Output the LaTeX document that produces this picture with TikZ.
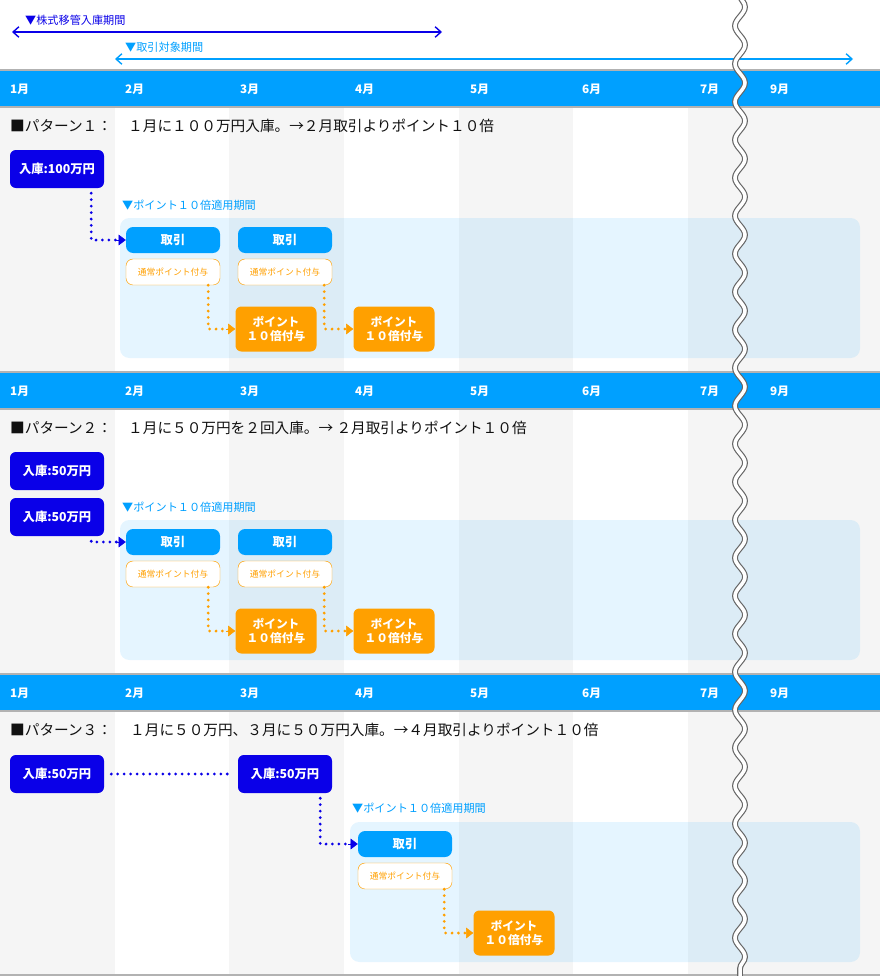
\documentclass[tikz,border=0pt]{standalone}
\usepackage{fontspec}
\setmainfont{Noto Sans CJK JP}
\usetikzlibrary{arrows.meta,positioning,decorations.pathmorphing}
\definecolor{sky}{HTML}{00A0FF}
\definecolor{deep}{HTML}{0A00E8}
\definecolor{amber}{HTML}{FFA000}
\definecolor{greycol}{HTML}{F5F5F5}
\definecolor{ink}{HTML}{111111}
\tikzset{
    x=0.03cm, y=-0.03cm, font=\fontsize{11}{13}\selectfont,
    month/.style = {text=white, font=\fontsize{10}{12}\selectfont\bfseries, anchor=west},
    title/.style = {text=ink, font=\fontsize{12.5}{15}\selectfont, anchor=west, inner sep=0pt},
    span/.style = {text=sky, font=\fontsize{9.5}{11}\selectfont, anchor=west, inner sep=0pt},
    deposit/.style = {rounded corners=5pt, fill=deep, text=white, minimum width=94*0.03cm, minimum height=38*0.03cm, font=\fontsize{10.5}{12}\selectfont\bfseries},
    trade/.style = {rounded corners=6pt, fill=sky, text=white, minimum width=94*0.03cm, minimum height=26*0.03cm, font=\fontsize{10.5}{12}\selectfont\bfseries},
    normal/.style = {rounded corners=6pt, draw=amber, fill=white, text=amber, minimum width=94*0.03cm, minimum height=26*0.03cm, inner sep=0pt, font=\fontsize{7.5}{9}\selectfont},
    bonus/.style = {rounded corners=5pt, fill=amber, text=white, minimum width=81*0.03cm, minimum height=45*0.03cm, inner sep=1pt, align=center, font=\fontsize{10}{12}\selectfont\bfseries},
    bluedots/.style = {draw=deep, line width=2.6pt, dash pattern=on 0pt off 5.5pt, line cap=round},
    orangedots/.style = {draw=amber, line width=2.6pt, dash pattern=on 0pt off 5.5pt, line cap=round},
    tip/.style = {-{Triangle[length=6pt,width=9pt,line cap=butt]}}
}
\begin{document}
\begin{tikzpicture}
    \useasboundingbox (0,0) rectangle (880,976);
    \fill[white] (0,0) rectangle (880,976);
    % columns
    \foreach \a/\b in {0/115,229/344,459/573,688/880}
        \fill[greycol] (\a,107) rectangle (\b,975);
    % month bands
    \foreach \y in {70,372,674} {
        \fill[sky] (0,\y) rectangle (880,\y+37);
        \draw[gray!60, line width=1.5pt] (0,\y) -- (880,\y) (0,\y+37) -- (880,\y+37);
        \foreach \x/\m in {10/1,125/2,240/3,355/4,470/5,582/6,700/7,770/9}
            \node[month] at (\x-4,\y+19) {\m 月};
    }
    \draw[gray!60, line width=1.5pt] (0,975) -- (880,975);
    % periods
    \node[span, text=deep] (movelbl) at (25,20) {▼株式移管入庫期間};
    \coordinate (moveL) at (12,32); \coordinate (moveR) at (442,32);
    \draw[deep, line width=1.2pt, {Straight Barb[length=5pt,width=9pt]}-{Straight Barb[length=5pt,width=9pt]}] (moveL) -- (moveR);
    \node[span] (tradelbl) at (125,47) {▼取引対象期間};
    \coordinate (tradeL) at (115,59); \coordinate (tradeR) at (853,59);
    \draw[sky, line width=1.2pt, {Straight Barb[length=5pt,width=9pt]}-{Straight Barb[length=5pt,width=9pt]}] (tradeL) -- (tradeR);

    % pattern 1
    \node[title] (t1) at (10,126) {■パターン１：};
    \node[title] (t1b) at (128,126) {１月に１００万円入庫。→２月取引よりポイント１０倍};
    \node[deposit] (d1) at (57,169) {入庫:100万円};
    \node[span] (p1) at (122,205) {▼ポイント１０倍適用期間};
    \fill[sky, opacity=0.1, rounded corners=8pt] (120,218) rectangle (860,358);
    \node[trade] (a1) at (173,240) {取引};
    \node[trade] (a2) at (285,240) {取引};
    \node[normal] (n1) at (173,272) {通常ポイント付与};
    \node[normal] (n2) at (285,272) {通常ポイント付与};
    \node[bonus] (b1) at (276,329) {ポイント\\１０倍付与};
    \node[bonus] (b2) at (394,329) {ポイント\\１０倍付与};
    \draw[bluedots] (d1.south east) ++(-13,5) |- ([xshift=-2pt]a1.west);
    \draw[deep, tip] ([xshift=-8pt]a1.west) -- (a1.west);
    \draw[orangedots] ([xshift=-12*0.03cm]n1.south east) |- ([xshift=-2pt]b1.west);
    \draw[amber, tip] ([xshift=-8pt]b1.west) -- (b1.west);
    \draw[orangedots] ([xshift=-8*0.03cm]n2.south east) |- ([xshift=-2pt]b2.west);
    \draw[amber, tip] ([xshift=-8pt]b2.west) -- (b2.west);

    % pattern 2
    \node[title] (t2) at (10,428) {■パターン２：};
    \node[title] (t2b) at (128,428) {１月に５０万円を２回入庫。→ ２月取引よりポイント１０倍};
    \node[deposit] (e1) at (57,471) {入庫:50万円};
    \node[deposit] (e2) at (57,517) {入庫:50万円};
    \node[span] (p2) at (122,507) {▼ポイント１０倍適用期間};
    \fill[sky, opacity=0.1, rounded corners=8pt] (120,520) rectangle (860,660);
    \node[trade] (c1) at (173,542) {取引};
    \node[trade] (c2) at (285,542) {取引};
    \node[normal] (m1) at (173,574) {通常ポイント付与};
    \node[normal] (m2) at (285,574) {通常ポイント付与};
    \node[bonus] (g1) at (276,631) {ポイント\\１０倍付与};
    \node[bonus] (g2) at (394,631) {ポイント\\１０倍付与};
    \draw[bluedots] (e2.south east) ++(-13,5) |- ([xshift=-2pt]c1.west);
    \draw[deep, tip] ([xshift=-8pt]c1.west) -- (c1.west);
    \draw[orangedots] ([xshift=-12*0.03cm]m1.south east) |- ([xshift=-2pt]g1.west);
    \draw[amber, tip] ([xshift=-8pt]g1.west) -- (g1.west);
    \draw[orangedots] ([xshift=-8*0.03cm]m2.south east) |- ([xshift=-2pt]g2.west);
    \draw[amber, tip] ([xshift=-8pt]g2.west) -- (g2.west);

    % pattern 3
    \node[title] (t3) at (10,730) {■パターン３：};
    \node[title] (t3b) at (130,730) {１月に５０万円、３月に５０万円入庫。→４月取引よりポイント１０倍};
    \node[deposit] (f1) at (57,774) {入庫:50万円};
    \node[deposit] (f2) at (285,774) {入庫:50万円};
    \draw[bluedots] ([xshift=6pt]f1.east) -- ([xshift=-6pt]f2.west);
    \node[span] (p3) at (352,808) {▼ポイント１０倍適用期間};
    \fill[sky, opacity=0.1, rounded corners=8pt] (350,822) rectangle (860,962);
    \node[trade] (h1) at (405,844) {取引};
    \node[normal] (k1) at (405,876) {通常ポイント付与};
    \node[bonus] (q1) at (514,933) {ポイント\\１０倍付与};
    \draw[bluedots] (f2.south east) ++(-12,5) |- ([xshift=-2pt]h1.west);
    \draw[deep, tip] ([xshift=-8pt]h1.west) -- (h1.west);
    \draw[orangedots] ([xshift=-8*0.03cm]k1.south east) |- ([xshift=-2pt]q1.west);
    \draw[amber, tip] ([xshift=-8pt]q1.west) -- (q1.west);

    % break line
    \coordinate (cutT) at (740,-5); \coordinate (cutB) at (740,981);
    \draw[gray!80!black, line width=5pt, decorate, decoration={snake, segment length=38*0.03cm, amplitude=5*0.03cm}] (cutT) -- (cutB);
    \draw[white, line width=3pt, decorate, decoration={snake, segment length=38*0.03cm, amplitude=5*0.03cm}] (cutT) -- (cutB);
\end{tikzpicture}
\end{document}
